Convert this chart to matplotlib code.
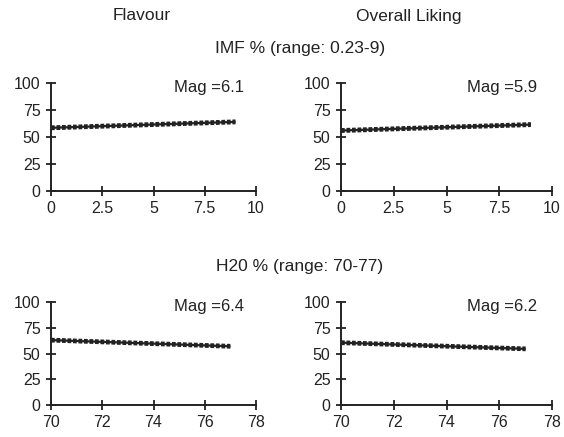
import matplotlib
matplotlib.use("Agg")
import matplotlib.pyplot as plt

plt.rcParams["font.family"] = ["Liberation Sans", "DejaVu Sans"]
plt.rcParams["font.size"] = 11.5
plt.rcParams["text.color"] = "#222222"

# data (fitted lines, start and end)
imf_x = [0.23, 9]
imf_flavour = [58.5, 64.0]
imf_liking = [56.0, 61.5]
h2o_x = [70, 77]
h2o_flavour = [63.0, 57.0]
h2o_liking = [60.5, 54.5]

col_titles = ["Flavour", "Overall Liking"]
row_titles = ["IMF % (range: 0.23-9)", "H20 % (range: 70-77)"]
mags = [["Mag =6.1", "Mag =5.9"], ["Mag =6.4", "Mag =6.2"]]

imf_ticks = [0, 2.5, 5, 7.5, 10]
imf_ticklabels = ["0", "2.5", "5", "7.5", "10"]
h2o_ticks = [70, 72, 74, 76, 78]
y_ticks = [0, 25, 50, 75, 100]

W, H = 564, 437
fig = plt.figure(figsize=(W / 100, H / 100), dpi=100)


def box(l, r, t, b):
    return [l / W, 1 - b / H, (r - l) / W, (b - t) / H]


rects = [
    [box(51, 256, 83, 191), box(341, 552, 83, 191)],
    [box(51, 256, 302, 405), box(341, 552, 302, 405)],
]
series = [
    [(imf_x, imf_flavour), (imf_x, imf_liking)],
    [(h2o_x, h2o_flavour), (h2o_x, h2o_liking)],
]

for i in range(2):
    for j in range(2):
        ax = fig.add_axes(rects[i][j])
        x, y = series[i][j]
        if i == 0:
            x = [0, x[1]]
        ax.plot(x, y, color="#222222", lw=1.6, solid_capstyle="butt")
        for off in (1.1, -1.1):
            ax.plot(x, [v + off for v in y], color="#222222", lw=1.8,
                    linestyle=(0, (1.5, 0.7)), dash_capstyle="butt")
        ax.set_ylim(0, 100)
        ax.set_yticks(y_ticks)
        if i == 0:
            ax.set_xlim(0, 10)
            ax.set_xticks(imf_ticks)
            ax.set_xticklabels(imf_ticklabels)
        else:
            ax.set_xlim(70, 78)
            ax.set_xticks(h2o_ticks)
        for s in ["top", "right"]:
            ax.spines[s].set_visible(False)
        for s in ["left", "bottom"]:
            ax.spines[s].set_linewidth(1.4)
            ax.spines[s].set_color("#222222")
        ax.tick_params(direction="inout", length=7, width=1.3, color="#222222",
                       labelsize=11.5, labelcolor="#222222", pad=4)
        ax.text(0.94 if j == 0 else 0.93, 0.955, mags[i][j], transform=ax.transAxes,
                ha="right", va="center", fontsize=12)

fig.text(142 / W, 1 - 16 / H, col_titles[0], ha="center", va="center", fontsize=12.5)
fig.text(409 / W, 1 - 16 / H, col_titles[1], ha="center", va="center", fontsize=12.5)
fig.text(300 / W, 1 - 48 / H, row_titles[0], ha="center", va="center", fontsize=12.5)
fig.text(300 / W, 1 - 267 / H, row_titles[1], ha="center", va="center", fontsize=12.5)

fig.savefig("out.png", dpi=100)
